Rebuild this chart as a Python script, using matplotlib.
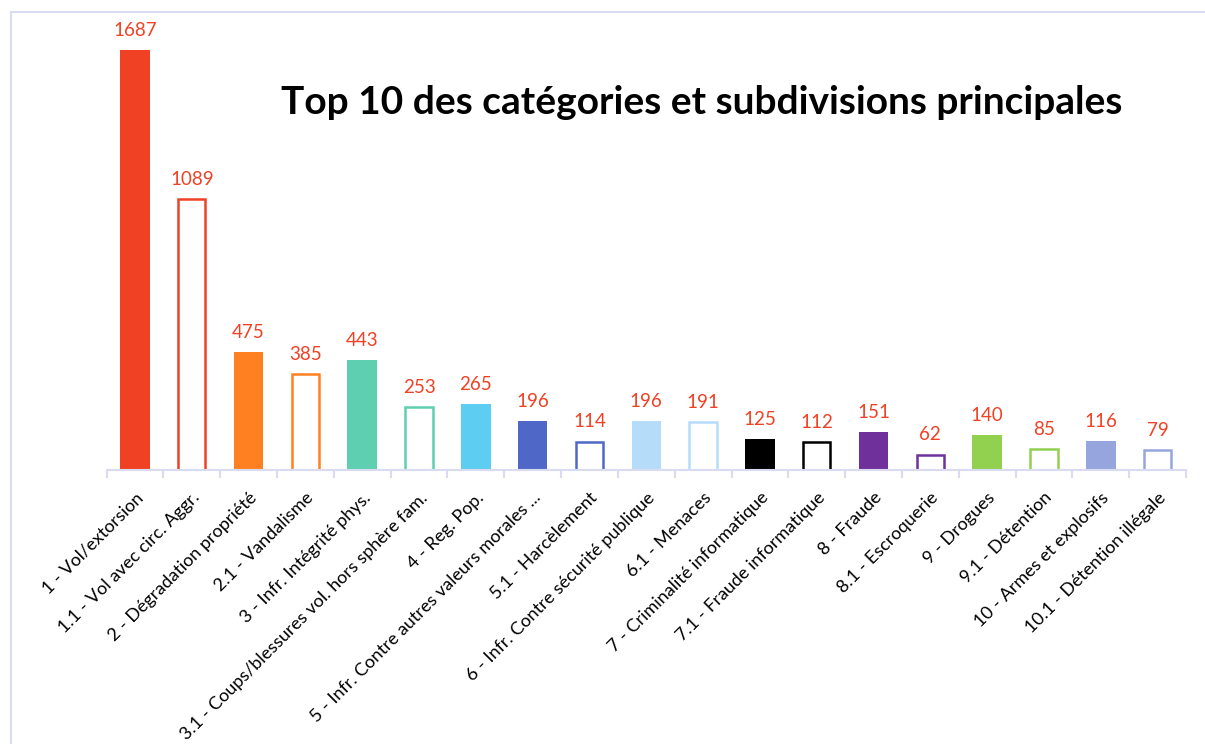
import matplotlib
matplotlib.use("Agg")
import matplotlib.pyplot as plt
from matplotlib.patches import Rectangle

categories = [
    "1 - Vol/extorsion", "1.1 - Vol avec circ. Aggr.", "2 - Dégradation propriété",
    "2.1 - Vandalisme", "3 - Infr. Intégrité phys.", "3.1 - Coups/blessures vol. hors sphère fam.",
    "4 - Reg. Pop.", "5 - Infr. Contre autres valeurs morales ...", "5.1 - Harcèlement",
    "6 - Infr. Contre sécurité publique", "6.1 - Menaces", "7 - Criminalité informatique",
    "7.1 - Fraude informatique", "8 - Fraude", "8.1 - Escroquerie", "9 - Drogues",
    "9.1 - Détention", "10 - Armes et explosifs", "10.1 - Détention illégale",
]
values = [1687, 1089, 475, 385, 443, 253, 265, 196, 114, 196, 191, 125, 112, 151, 62, 140, 85, 116, 79]
filled = [True, False, True, False, True, False, True, True, False, True, False,
          True, False, True, False, True, False, True, False]
colors = ["#F04124", "#F04124", "#FF8020", "#FF8020", "#5ECFB0", "#5ECFB0", "#5DCDF2",
          "#4F68C8", "#4F68C8", "#B5DCF8", "#B5DCF8", "#000000", "#000000",
          "#70309C", "#70309C", "#92D050", "#92D050", "#96A5DE", "#96A5DE"]

W, H = 1205, 744
fig = plt.figure(figsize=(W / 100, H / 100), dpi=100)
plt.rcParams['font.family'] = ['Lato', 'DejaVu Sans']

# outer frame
frame = Rectangle((11 / W, -0.1), 1.2, 1 - 12 / H + 0.1, transform=fig.transFigure,
                  fill=False, edgecolor="#D9DCF0", linewidth=1.5)
fig.patches.append(frame)

x0, x1 = 106.6 / W, 1186 / W
y0 = 1 - 470 / H
ymax = 1800
ax_h = (420 / 1687 * ymax) / H
ax = fig.add_axes([x0, y0, x1 - x0, ax_h])

xs = list(range(len(values)))
for x, v, f, c in zip(xs, values, filled, colors):
    if f:
        ax.bar(x, v, width=0.52, color=c, edgecolor=c, linewidth=0)
    else:
        ax.bar(x, v, width=0.48, facecolor="white", edgecolor=c, linewidth=1.8)
    ax.text(x, v + 45, str(v), ha="center", va="bottom", color="#F04124", fontsize=13.5)

ax.set_xlim(-0.5, len(values) - 0.5)
ax.set_ylim(0, ymax)
for s in ["top", "right", "left"]:
    ax.spines[s].set_visible(False)
ax.spines["bottom"].set_color("#D9DCF0")
ax.spines["bottom"].set_linewidth(1.5)
ax.set_yticks([])
ax.set_xticks([i - 0.5 for i in range(len(values) + 1)], minor=False)
ax.set_xticklabels([])
ax.tick_params(axis="x", which="major", length=6, color="#D9DCF0", width=1.5)
ax.set_xticks(xs, minor=True)
ax.set_xticklabels(categories, minor=True, rotation=45, ha="right", va="top",
                   rotation_mode="anchor", fontsize=13)
ax.tick_params(axis="x", which="minor", length=0, pad=14)

fig.text(702 / W, 1 - 102 / H, "Top 10 des catégories et subdivisions principales",
         ha="center", va="center", fontsize=28, fontweight="bold", color="black")

fig.savefig("out.png", dpi=100)
